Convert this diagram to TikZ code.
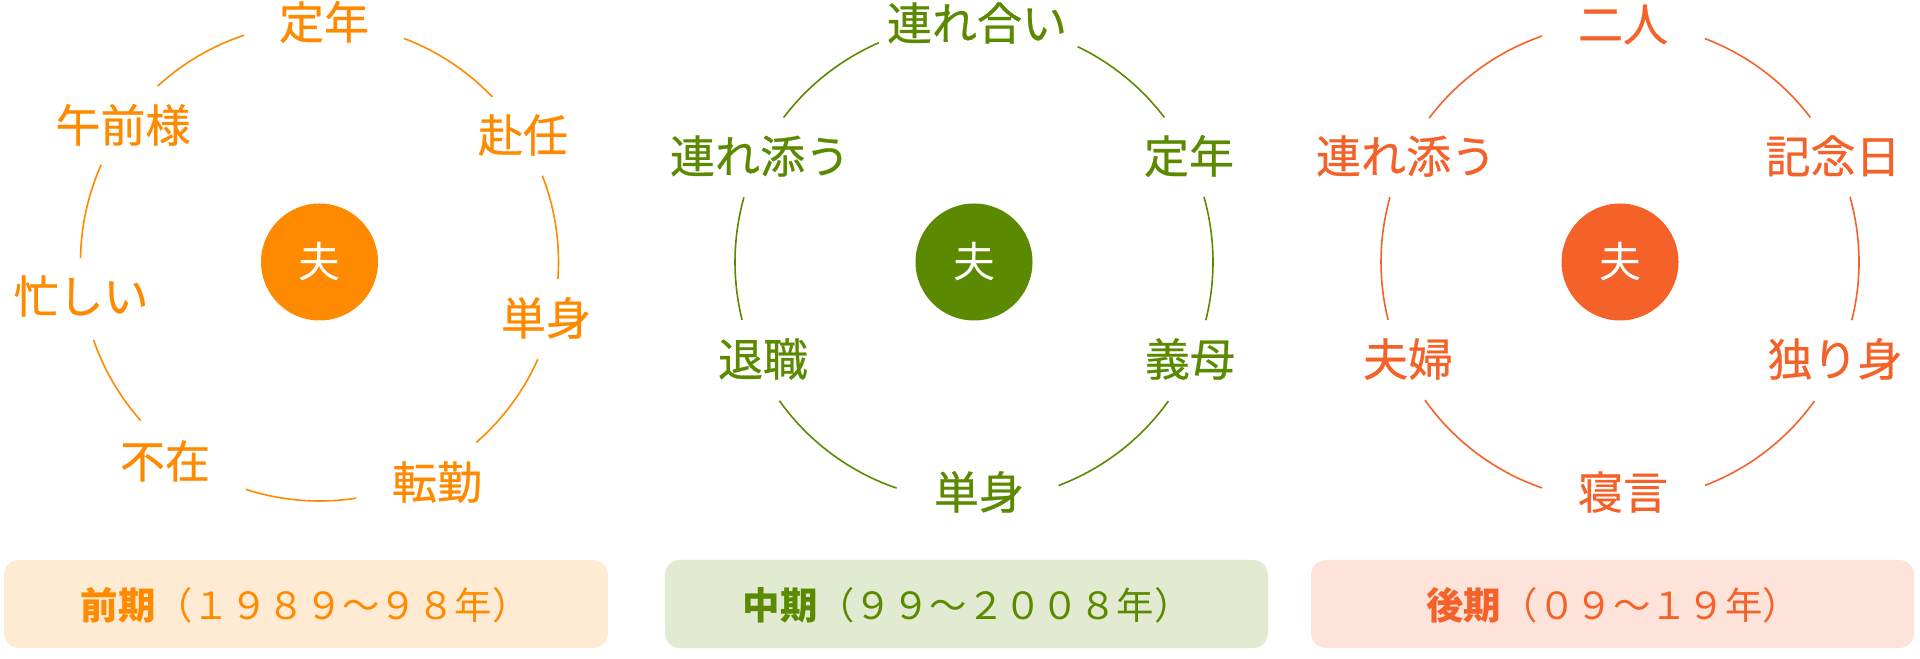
\documentclass[tikz,border=0pt]{standalone}
\usepackage{fontspec}
\newfontfamily\jp{Noto Sans CJK JP}
\newfontfamily\jpl[FakeBold=0.6]{Noto Sans CJK JP}
\usetikzlibrary{calc}
\definecolor{corange}{HTML}{FF8A00}
\definecolor{cgreen}{HTML}{5B8A00}
\definecolor{cred}{HTML}{F4622A}
\definecolor{borange}{HTML}{FFEAD4}
\definecolor{bgreen}{HTML}{E2EAD1}
\definecolor{bred}{HTML}{FEE3DA}
\tikzset{
  lbl/.style={inner sep=0pt, text height=17.1pt, text depth=0pt, font=\jpl\fontsize{22.5}{27}\selectfont},
  hub/.style={circle, inner sep=0pt, minimum size=58.5pt, text=white, font=\jp\fontsize{21}{25}\selectfont, text height=16pt, text depth=0pt},
  ring/.style={line width=0.8pt},
  period/.style={rounded corners=7.5pt, draw=none},
  ptext/.style={inner sep=0pt, text height=14.2pt, text depth=0pt, font=\jp\fontsize{18.7}{23}\selectfont}
}
\begin{document}
\begin{tikzpicture}[x=0.5pt,y=0.5pt]
\useasboundingbox (0,0) rectangle (1920,658);
% ---------- left diagram ----------
\coordinate (c1) at (319.5,396);
\node[hub, fill=corange] (h1) at (c1) {夫};
\begin{scope}[text=corange]
\node[lbl] (l1a) at (324,636) {定年};
\node[lbl] (l1b) at (523,523) {赴任};
\node[lbl] (l1c) at (546,340) {単身};
\node[lbl] (l1d) at (437,176) {転勤};
\node[lbl] (l1e) at (165,197) {不在};
\node[lbl] (l1f) at (81,362) {忙しい};
\node[lbl] (l1g) at (123,533) {午前様};
\end{scope}
\begin{scope}[ring, draw=corange]
\foreach \a/\b in {108.4/132.6, 43.7/69.3, -4.1/21.2, -49/-24, -108/-81.2, 199/221.6, 156/179}
  \draw ($(c1)+(\a:239)$) arc[start angle=\a, end angle=\b, radius=239];
\end{scope}
% ---------- middle diagram ----------
\coordinate (c2) at (974,396);
\node[hub, fill=cgreen] (h2) at (c2) {夫};
\begin{scope}[text=cgreen]
\node[lbl] (l2a) at (977,635) {連れ合い};
\node[lbl] (l2b) at (1189,502) {定年};
\node[lbl] (l2c) at (1190,299) {義母};
\node[lbl] (l2d) at (979,166) {単身};
\node[lbl] (l2e) at (763,299) {退職};
\node[lbl] (l2f) at (760,502) {連れ添う};
\end{scope}
\begin{scope}[ring, draw=cgreen]
\foreach \a/\b in {113.5/142.8, 37.2/64.3, -14.1/15.8, -69.3/-35.6, -144.5/-108.9, 164.3/194}
  \draw ($(c2)+(\a:239)$) arc[start angle=\a, end angle=\b, radius=239];
\end{scope}
% ---------- right diagram ----------
\coordinate (c3) at (1620,396);
\node[hub, fill=cred] (h3) at (c3) {夫};
\begin{scope}[text=cred]
\node[lbl] (l3a) at (1623,634) {二人};
\node[lbl] (l3b) at (1833,502) {記念日};
\node[lbl] (l3c) at (1835,299) {独り身};
\node[lbl] (l3d) at (1623,166) {寝言};
\node[lbl] (l3e) at (1408,299) {夫婦};
\node[lbl] (l3f) at (1406,502) {連れ添う};
\end{scope}
\begin{scope}[ring, draw=cred]
\foreach \a/\b in {109/143, 37.2/69.2, -14.1/15.8, -69.2/-35.6, -144.7/-109, 164.3/194}
  \draw ($(c3)+(\a:239)$) arc[start angle=\a, end angle=\b, radius=239];
\end{scope}
% ---------- period boxes ----------
\fill[period, borange] (4,10) rectangle (608,98);
\fill[period, bgreen] (665,10) rectangle (1268,98);
\fill[period, bred] (1311,10) rectangle (1914,98);
\node[ptext, text=corange] (p1) at (305,53) {{\bfseries 前期}（１９８９～９８年）};
\node[ptext, text=cgreen] (p2) at (967,53) {{\bfseries 中期}（９９～２００８年）};
\node[ptext, text=cred] (p3) at (1613,53) {{\bfseries 後期}（０９～１９年）};
\end{tikzpicture}
\end{document}
